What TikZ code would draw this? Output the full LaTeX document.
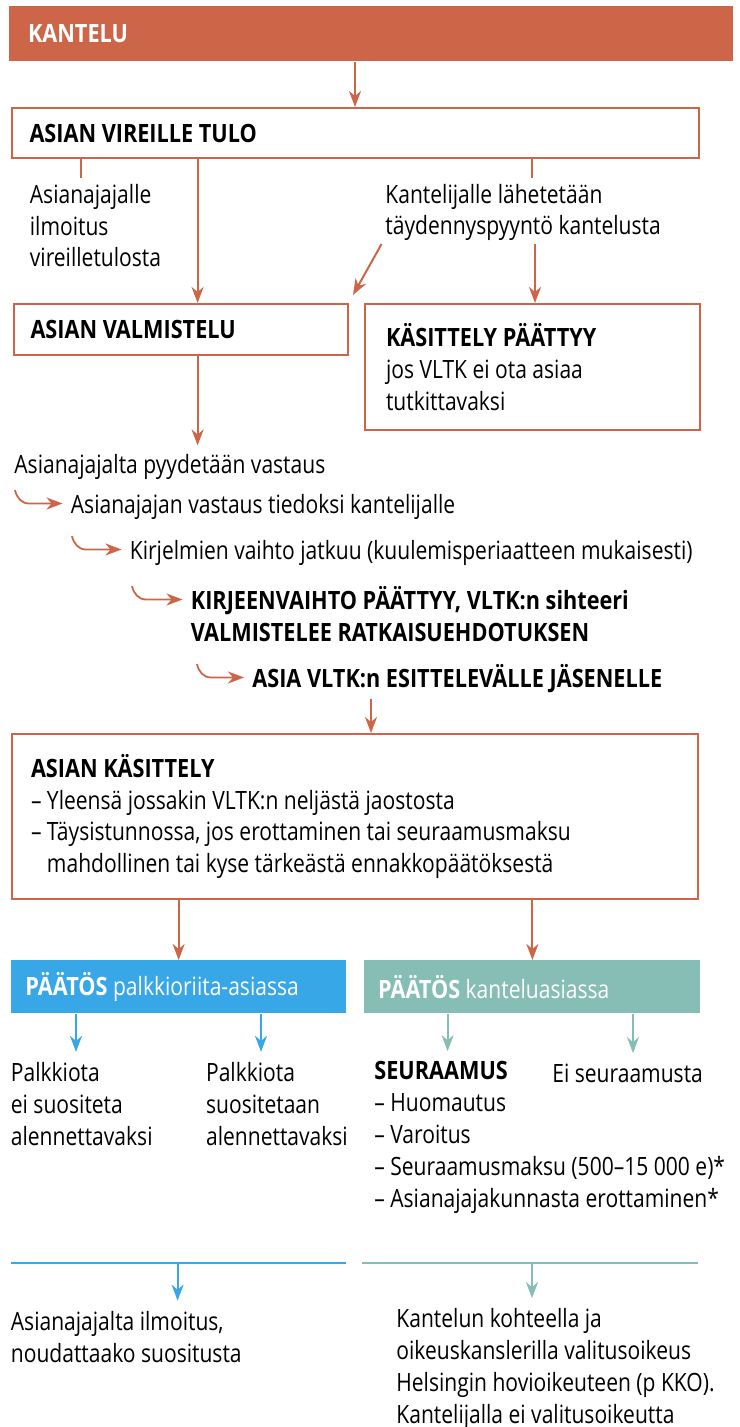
\documentclass[tikz,border=0pt]{standalone}
\usepackage{fontspec}
\setmainfont[FakeStretch=0.835,BoldFeatures={FakeStretch=0.86}]{Open Sans}
\usepackage{tikz}
\usetikzlibrary{arrows.meta,positioning,calc}
\definecolor{kantred}{HTML}{CD6549}
\definecolor{palkblue}{HTML}{38A7E7}
\definecolor{kantteal}{HTML}{86BEB6}
\newcommand{\flowfont}{\fontsize{12.6}{15.9}\selectfont}
\tikzset{
  barbox/.style={fill=kantred,text=white,font=\flowfont\bfseries,anchor=north west,
    align=flush left,inner ysep=0pt},
  flowbox/.style={draw=kantred,line width=1pt,fill=white,anchor=north west,align=flush left,
    inner ysep=0pt,font=\flowfont},
  decbox/.style={anchor=north west,align=flush left,inner ysep=0pt,text=white,font=\flowfont},
  flowtext/.style={anchor=base west,align=left,inner sep=0pt,font=\flowfont},
  steptext/.style={flowtext,inner xsep=4pt},
  flowarrow/.style={-{Stealth[length=8pt,width=6pt,inset=2.5pt]},draw=kantred,line width=1pt},
  flowline/.style={draw=kantred,line width=1pt},
  hookarrow/.style={-{Stealth[length=8pt,width=6pt,inset=2.5pt]},draw=kantred,line width=0.9pt},
  bluearrow/.style={-{Stealth[length=8pt,width=6pt,inset=2.5pt]},draw=palkblue,line width=0.9pt},
  tealarrow/.style={-{Stealth[length=8pt,width=6pt,inset=2.5pt]},draw=kantteal,line width=0.9pt}
}
\begin{document}
\begin{tikzpicture}[x=0.5pt,y=-0.5pt]
  \useasboundingbox (0,0) rectangle (739,1427);
  % kantelu ja vireilletulo
  \node[barbox,inner xsep=9.5pt,text width=343pt,minimum height=27.5pt] (kantelu) at (8.6,6) {KANTELU};
  \node[flowbox,inner xsep=9pt,text width=325.5pt,minimum height=25pt,font=\flowfont\bfseries] (tulo) at (10.5,107) {ASIAN VIREILLE TULO};
  \draw[flowarrow] (tulo.north |- kantelu.south) -- (tulo.north);
  % monirivisten tekstien base = viimeinen rivi
  \node[flowtext] (ilmo) at (29.5,267) {Asianajajalle\\ilmoitus\\vireilletulosta};
  \node[flowtext] (tayd) at (385,235) {Kantelijalle lähetetään\\täydennyspyyntö kantelusta};
  \draw[flowline,shorten >=3pt] (tulo.south -| 81,0) -- (ilmo.north -| 81,0);
  \draw[flowline,shorten >=3pt] (tulo.south -| 532,0) -- (tayd.north -| 532,0);
  % valmistelu
  \node[flowbox,inner xsep=8.25pt,text width=150.5pt,minimum height=25.5pt,font=\flowfont\bfseries] (valm) at (13,303) {ASIAN VALMISTELU};
  \node[flowbox,inner xsep=10.5pt,text width=146.5pt,minimum height=63pt] (paattyy) at (364,303)
    {\textbf{KÄSITTELY PÄÄTTYY}\\jos VLTK ei ota asiaa\\tutkittavaksi};
  \draw[flowarrow] (tulo.south -| 197.6,0) -- (valm.north -| 197.6,0);
  \draw[flowarrow,shorten <=1.5pt] ([xshift=-1pt]tayd.south west) -- ([xshift=2pt,yshift=4pt]valm.north east);
  \draw[flowarrow,shorten <=1.5pt] (tayd.south -| 535,0) -- (paattyy.north -| 535,0);
  % kirjeenvaihto
  \node[flowtext] (pyyd) at (14,473) {Asianajajalta pyydetään vastaus};
  \node[steptext] (vast) at (62.5,513) {Asianajajan vastaus tiedoksi kantelijalle};
  \node[steptext] (kirj) at (121.5,559) {Kirjelmien vaihto jatkuu (kuulemisperiaatteen mukaisesti)};
  \node[steptext,font=\flowfont\bfseries] (kirje) at (182.5,641) {KIRJEENVAIHTO PÄÄTTYY, VLTK:n sihteeri\\VALMISTELEE RATKAISUEHDOTUKSEN};
  \node[steptext,font=\flowfont\bfseries] (esit) at (244,687) {ASIA VLTK:n ESITTELEVÄLLE JÄSENELLE};
  \draw[flowarrow,shorten >=4pt] (valm.south -| 197.6,0) -- (pyyd.north -| 197.6,0);
  \coordinate (h1) at (15,490);
  \coordinate (h2) at (72,536);
  \coordinate (h3) at (132,586);
  \coordinate (h4) at (197,664);
  \draw[hookarrow] (h1) to[out=-78,in=180] ++(14,13.5) -- ([yshift=4.75pt]vast.base west);
  \draw[hookarrow] (h2) to[out=-78,in=180] ++(14,13.5) -- ([yshift=4.75pt]kirj.base west);
  \draw[hookarrow] (h3) to[out=-78,in=180] ++(14,13.5) -- ([yshift=20.75pt]kirje.base west);
  \draw[hookarrow] (h4) to[out=-78,in=180] ++(14,13.5) -- ([yshift=4.75pt]esit.base west);
  % kasittely
  \node[flowbox,inner xsep=9.75pt,text width=323.75pt,minimum height=82.5pt] (kasittely) at (10.5,733)
    {\textbf{ASIAN KÄSITTELY}\\– Yleensä jossakin VLTK:n neljästä jaostosta\\– Täysistunnossa, jos erottaminen tai seuraamusmaksu\\\phantom{– }mahdollinen tai kyse tärkeästä ennakkopäätöksestä};
  \draw[flowarrow,shorten <=3pt] (esit.south -| 371,0) -- (kasittely.north -| 371,0);
  % paatokset
  \node[decbox,fill=palkblue,inner xsep=7.25pt,text width=153.25pt,minimum height=26.5pt] (blue) at (10.5,960)
    {\textbf{PÄÄTÖS} palkkioriita-asiassa};
  \node[decbox,fill=kantteal,inner xsep=6.8pt,text width=154.4pt,minimum height=26.5pt] (teal) at (364,960)
    {\textbf{PÄÄTÖS} kanteluasiassa};
  \draw[flowarrow] (blue.north |- kasittely.south) -- (blue.north);
  \draw[flowarrow] (teal.north |- kasittely.south) -- (teal.north);
  \node[flowtext] (pal1) at (10.5,1145) {Palkkiota\\ei suositeta\\alennettavaksi};
  \node[flowtext] (pal2) at (205.7,1145) {Palkkiota\\suositetaan\\alennettavaksi};
  \node[flowtext] (seur) at (374,1207) {\textbf{SEURAAMUS}\\– Huomautus\\– Varoitus\\– Seuraamusmaksu (500–15 000 e)*\\– Asianajajakunnasta erottaminen*};
  \node[flowtext] (eiseur) at (552,1082) {Ei seuraamusta};
  \draw[bluearrow,shorten >=5pt] (blue.south -| 76,0) -- (pal1.north -| 76,0);
  \draw[bluearrow,shorten >=5pt] (blue.south -| 261,0) -- (pal2.north -| 261,0);
  \draw[tealarrow,shorten >=5pt] (teal.south -| 447.6,0) -- (seur.north -| 447.6,0);
  \draw[tealarrow,shorten >=5pt] (teal.south -| 633,0) -- (eiseur.north -| 633,0);
  % jatko
  \draw[palkblue,line width=0.9pt] (10.5,1263) -- (346,1263);
  \draw[kantteal,line width=0.9pt] (362,1263) -- (697.6,1263);
  \coordinate (bluemid) at (177.6,1263);
  \coordinate (tealmid) at (532,1263);
  \node[flowtext] (ilmoitus) at (10.5,1362) {Asianajajalta ilmoitus,\\noudattaako suositusta};
  \node[flowtext] (valitus) at (396,1423) {Kantelun kohteella ja\\oikeuskanslerilla valitusoikeus\\Helsingin hovioikeuteen (p KKO).\\Kantelijalla ei valitusoikeutta};
  \draw[bluearrow,shorten >=5pt] (bluemid) -- (ilmoitus.north -| bluemid);
  \draw[tealarrow,shorten >=5pt] (tealmid) -- (valitus.north -| tealmid);
\end{tikzpicture}
\end{document}
